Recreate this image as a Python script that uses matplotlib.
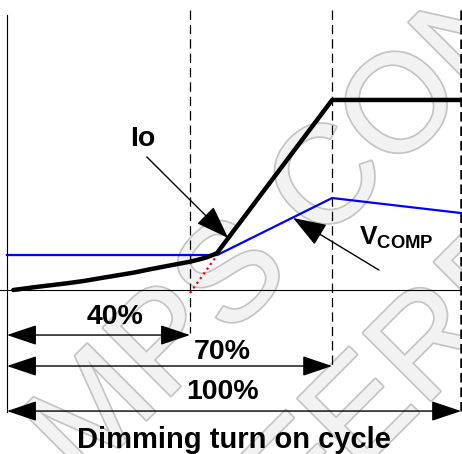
import matplotlib
matplotlib.use('Agg')
import matplotlib.pyplot as plt
import matplotlib.patheffects as pe

plt.rcParams['font.family'] = ['Liberation Sans', 'DejaVu Sans']
plt.rcParams['mathtext.fontset'] = 'custom'
plt.rcParams['mathtext.rm'] = 'Liberation Sans'
plt.rcParams['mathtext.bf'] = 'Liberation Sans:bold'

# x: drawing position along dimming cycle, y: arbitrary level (0 = baseline)
io_x = [1.4, 5.8, 13.1, 16.8, 20.5, 27.8, 31.5, 35.2, 40.3, 42.5, 44.0, 46.2, 71.6, 100.0]
io_y = [0.0, 1.4, 3.5, 4.7, 6.2, 9.1, 10.9, 12.6, 14.9, 16.2, 17.2, 19.3, 100.0, 100.0]
vcomp_x = [0.0, 46.3, 71.6, 100.0]
vcomp_y = [18.4, 18.4, 48.4, 40.5]
extrap_x = [40.3, 46.3]
extrap_y = [-1.6, 18.4]

marker_x = [40.3, 71.6, 100.0]
marker_labels = ['40%', '70%', '100%']
marker_bottom = [-22.6, -39.5, -64.2]
arrow_y = [-23.7, -40.0, -63.7]
label_pos = [(23.8, -14.2), (47.4, -32.6), (47.4, -53.7)]

fig = plt.figure(figsize=(4.62, 4.54), dpi=100)
ax = fig.add_axes([0, 0, 1, 1])
ax.set_xlim(-1.54, 100.2)
ax.set_ylim(-86.3, 152.6)
ax.axis('off')

# watermark
wm = dict(fontsize=100, color='#f2f2f2', rotation=45, rotation_mode='anchor',
          ha='left', va='baseline', zorder=0,
          path_effects=[pe.withStroke(linewidth=2.5, foreground='#c4c4c4')])
ax.text(16.3, -102.8, 'MPS CONFIDENTIAL', **wm)
ax.text(33.9, -200.2, 'REFERENCE', **wm)

# frame lines
ax.plot([0, 0], [144.7, -64.2], color='black', lw=0.8)
ax.axhline(0, color='black', lw=0.8)
for i, (mx, mb) in enumerate(zip(marker_x, marker_bottom)):
    if i == 2:
        ax.plot([mx, mx], [147.4, mb], color='black', lw=1.8, dashes=(3.8, 2.0))
    else:
        ax.plot([mx, mx], [147.4, mb], color='black', lw=0.9, dashes=(7.5, 4.0))

# curves
ax.plot(vcomp_x, vcomp_y, color='#0000ff', lw=1.6, zorder=3)
ax.plot(extrap_x, extrap_y, color='#ff0000', lw=1.6, linestyle=(0, (1, 1.6)), zorder=3)
ax.plot(io_x, io_y, color='black', lw=3.2, solid_capstyle='round',
        solid_joinstyle='round', zorder=4)

# dimension arrows
for y, mx, lab, (lx, ly) in zip(arrow_y, marker_x, marker_labels, label_pos):
    ax.annotate('', xy=(mx, y), xytext=(0, y),
                arrowprops=dict(arrowstyle='<|-|>,head_length=1.25,head_width=0.42',
                                mutation_scale=15, lw=1.0, color='black',
                                shrinkA=0, shrinkB=0))
    ax.text(lx, ly, lab, fontsize=20.5, fontweight='bold', ha='center', va='center')

# labels with pointers
ax.annotate('', xy=(48.7, 27.4), xytext=(30.8, 70.0),
            arrowprops=dict(arrowstyle='-|>,head_length=1.4,head_width=0.5',
                            mutation_scale=15, lw=1.0, color='black',
                            shrinkA=0, shrinkB=0), zorder=5)
ax.text(30.0, 79.5, 'Io', fontsize=20.5, fontweight='bold', ha='center', va='center')

ax.annotate('', xy=(63.0, 37.9), xytext=(81.9, 10.5),
            arrowprops=dict(arrowstyle='-|>,head_length=1.4,head_width=0.5',
                            mutation_scale=15, lw=1.0, color='black',
                            shrinkA=0, shrinkB=0), zorder=5)
ax.text(77.6, 27.4, r'$\mathbf{V_{COMP}}$', fontsize=19, ha='left', va='center')

ax.text(50.0, -78.9, 'Dimming turn on cycle', fontsize=21, fontweight='bold',
        ha='center', va='center')

fig.savefig('out.png', dpi=100)
